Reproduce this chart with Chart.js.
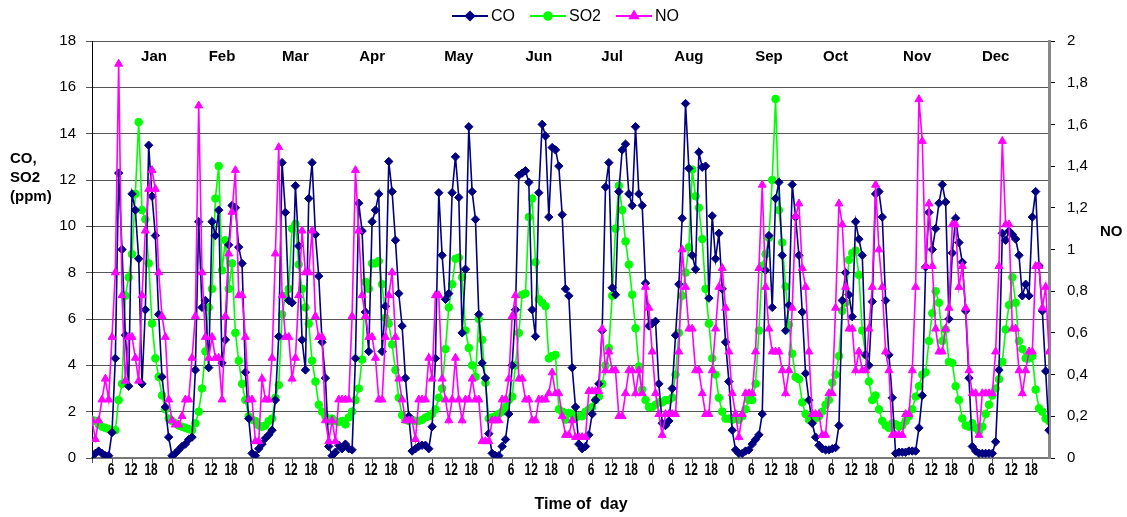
<!DOCTYPE html>
<html>
<head>
<meta charset="utf-8">
<script src="https://cdn.jsdelivr.net/npm/chart.js@4.4.1/dist/chart.umd.min.js"></script>
<style>
  html, body { margin: 0; padding: 0; background: #fff; }
  #wrap { width: 1127px; height: 517px; position: relative; }
</style>
</head>
<body>
<div id="wrap"><canvas id="airChart" width="1127" height="517"></canvas></div>
<script>
// =====================
// Data (hourly means, one row per month)
// =====================
const monthNames = ['Jan', 'Feb', 'Mar', 'Apr', 'May', 'Jun', 'Jul', 'Aug', 'Sep', 'Oct', 'Nov', 'Dec'];
const hourTicks = [0, 6, 12, 18];

const coMonths = [
  [0.1, 0.2, 0.3, 0.2, 0.1, 0.1, 1.1, 4.3, 12.3, 9.0, 5.3, 3.1, 11.4, 10.7, 8.6, 3.2, 6.4, 13.5, 11.3, 9.6, 6.2, 3.5, 2.2, 0.9],
  [0.1, 0.2, 0.35, 0.5, 0.6, 0.8, 0.9, 3.8, 10.2, 6.5, 6.8, 3.9, 10.2, 9.6, 10.7, 4.1, 5.1, 9.2, 10.9, 10.8, 9.1, 8.4, 3.7, 1.7],
  [0.2, 0.1, 0.4, 0.6, 0.85, 1.0, 1.2, 2.5, 5.25, 12.75, 10.6, 6.8, 6.7, 11.75, 9.15, 5.1, 3.8, 11.2, 12.75, 9.65, 7.85, 5.0, 3.45, 0.5],
  [0.1, 0.25, 0.55, 0.4, 0.6, 0.4, 0.35, 4.3, 11.0, 9.8, 6.3, 4.6, 10.2, 10.7, 11.4, 4.6, 6.55, 12.8, 11.5, 9.4, 7.1, 5.7, 3.45, 1.8],
  [0.3, 0.4, 0.5, 0.55, 0.55, 0.4, 1.35, 4.3, 11.45, 8.75, 6.85, 7.1, 11.45, 13.0, 11.25, 5.4, 8.15, 14.3, 11.5, 10.3, 6.2, 4.1, 3.45, 1.05],
  [0.2, 0.1, 0.1, 0.5, 0.8, 1.9, 4.0, 6.4, 12.2, 12.3, 12.4, 11.9, 6.4, 5.25, 11.45, 14.4, 13.9, 10.4, 13.4, 13.3, 12.6, 10.5, 7.3, 7.0],
  [3.9, 2.2, 0.6, 0.4, 0.5, 1.0, 1.9, 2.5, 3.2, 5.5, 11.7, 12.75, 7.35, 7.05, 11.5, 13.3, 13.55, 11.4, 10.9, 14.3, 11.4, 10.9, 7.55, 5.7],
  [5.8, 5.9, 3.2, 1.5, 1.4, 1.6, 3.0, 5.3, 7.5, 10.35, 15.3, 12.5, 8.75, 8.15, 13.2, 12.55, 12.6, 6.9, 10.45, 8.6, 9.7, 7.3, 5.0, 3.3],
  [1.2, 0.35, 0.2, 0.2, 0.3, 0.35, 0.6, 0.8, 1.0, 1.9, 8.1, 9.6, 6.5, 11.2, 11.9, 8.75, 5.5, 6.6, 11.8, 10.4, 8.75, 6.3, 3.65, 2.5],
  [1.5, 0.9, 0.55, 0.4, 0.35, 0.35, 0.4, 0.45, 1.4, 6.8, 8.0, 7.05, 6.1, 10.2, 9.45, 8.75, 4.45, 4.0, 6.75, 11.4, 11.5, 10.4, 6.8, 4.45],
  [2.6, 0.2, 0.25, 0.25, 0.25, 0.3, 0.3, 0.3, 1.3, 2.7, 8.25, 10.6, 9.0, 9.9, 11.0, 11.8, 11.05, 6.0, 8.85, 10.35, 9.3, 8.45, 6.35, 3.45],
  [0.5, 0.3, 0.2, 0.2, 0.2, 0.2, 0.2, 0.7, 3.8, 9.7, 9.4, 9.8, 9.65, 9.45, 8.75, 7.0, 7.5, 7.0, 10.4, 11.5, 8.3, 6.35, 3.75, 1.2]
];

const so2Months = [
  [1.65, 1.6, 1.45, 1.35, 1.3, 1.25, 1.2, 1.2, 2.5, 3.2, 7.0, 7.8, 8.8, 11.4, 14.5, 10.7, 10.3, 8.4, 5.8, 4.3, 3.5, 2.7, 2.1, 1.7],
  [1.6, 1.5, 1.4, 1.35, 1.3, 1.25, 1.2, 1.5, 2.0, 3.0, 4.6, 6.5, 7.3, 11.2, 12.6, 8.1, 9.4, 7.3, 8.4, 5.4, 4.2, 3.2, 2.5, 1.8],
  [1.65, 1.6, 1.4, 1.35, 1.4, 1.6, 1.7, 2.6, 3.15, 6.2, 7.0, 7.3, 9.9, 10.1, 8.35, 7.3, 6.5, 5.8, 4.2, 3.3, 2.3, 2.0, 1.8, 1.6],
  [1.7, 1.6, 1.55, 1.6, 1.45, 1.75, 2.0, 2.5, 3.0, 4.25, 7.6, 7.3, 8.4, 8.4, 8.5, 7.5, 6.05, 5.8, 4.9, 3.8, 2.6, 1.85, 1.65, 1.6],
  [1.65, 1.6, 1.6, 1.65, 1.75, 1.8, 1.9, 2.1, 2.6, 3.0, 4.7, 6.5, 7.5, 8.6, 8.65, 7.8, 5.5, 4.75, 4.0, 3.5, 6.0, 5.1, 3.25, 1.7],
  [1.75, 1.8, 1.9, 2.0, 2.2, 2.5, 2.65, 4.0, 5.4, 7.05, 7.1, 10.4, 11.2, 8.45, 6.85, 6.7, 6.55, 4.3, 4.4, 4.45, 2.1, 2.0, 1.65, 1.95],
  [1.9, 1.75, 1.8, 1.8, 2.0, 2.1, 2.2, 2.5, 2.65, 3.2, 4.0, 4.75, 7.0, 9.9, 11.75, 10.7, 9.35, 8.35, 7.05, 5.6, 3.95, 2.95, 2.5, 2.2],
  [2.2, 2.3, 2.4, 2.4, 2.5, 2.5, 2.6, 3.6, 5.4, 7.0, 8.0, 9.1, 12.45, 11.3, 10.8, 9.45, 7.3, 5.8, 4.3, 3.6, 2.6, 2.0, 1.7, 1.7],
  [1.65, 1.7, 1.65, 1.8, 2.1, 2.5, 2.5, 3.2, 5.5, 8.3, 8.8, 9.5, 12.0, 15.5, 10.7, 9.3, 7.4, 5.75, 4.5, 3.5, 3.4, 2.4, 1.9, 1.65],
  [1.6, 1.7, 1.8, 2.0, 2.3, 2.5, 3.25, 3.6, 4.4, 6.35, 6.7, 8.55, 8.85, 8.95, 7.9, 5.5, 4.45, 3.3, 2.5, 2.7, 2.1, 1.6, 1.4, 1.3],
  [1.5, 1.45, 1.35, 1.4, 1.6, 1.8, 2.1, 2.65, 3.1, 3.6, 3.7, 5.05, 6.25, 7.2, 6.7, 5.05, 5.55, 4.15, 4.1, 3.1, 2.5, 1.7, 1.4, 1.35],
  [1.5, 1.3, 1.15, 1.35, 1.9, 2.3, 2.7, 3.0, 3.4, 4.15, 5.55, 6.6, 7.8, 6.7, 5.05, 4.7, 4.3, 4.3, 4.4, 2.95, 2.15, 2.0, 1.7, 1.6]
];

const noMonths = [
  [0.18, 0.09, 0.18, 0.28, 0.38, 0.28, 0.58, 0.89, 1.89, 0.78, 0.37, 0.58, 0.58, 0.48, 0.37, 0.78, 1.09, 1.29, 1.38, 1.29, 0.89, 0.68, 0.58, 0.28],
  [0.18, 0.16, 0.16, 0.2, 0.28, 0.28, 0.48, 0.68, 1.69, 0.89, 0.58, 0.48, 0.58, 0.48, 0.48, 0.28, 0.68, 0.98, 1.18, 1.38, 0.78, 0.78, 0.58, 0.28],
  [0.28, 0.08, 0.08, 0.38, 0.28, 0.28, 0.48, 0.98, 1.49, 0.78, 0.58, 0.58, 0.38, 0.48, 0.78, 1.09, 0.89, 0.89, 1.09, 0.68, 0.58, 0.58, 0.18, 0.08],
  [0.18, 0.08, 0.28, 0.28, 0.28, 0.28, 0.68, 1.38, 1.09, 0.78, 0.68, 0.58, 0.58, 0.48, 0.28, 0.28, 0.58, 0.78, 0.89, 0.58, 0.38, 0.28, 0.18, 0.18],
  [0.18, 0.09, 0.28, 0.28, 0.28, 0.48, 0.38, 0.78, 0.78, 0.38, 0.28, 0.18, 0.28, 0.48, 0.28, 0.18, 0.28, 0.28, 0.38, 0.28, 0.28, 0.08, 0.08, 0.08],
  [0.18, 0.18, 0.18, 0.28, 0.28, 0.38, 0.68, 0.78, 0.38, 0.38, 0.28, 0.28, 0.18, 0.18, 0.28, 0.28, 0.28, 0.31, 0.41, 0.31, 0.31, 0.2, 0.11, 0.11],
  [0.18, 0.1, 0.1, 0.1, 0.1, 0.32, 0.32, 0.32, 0.32, 0.62, 0.42, 0.51, 0.42, 0.42, 0.2, 0.2, 0.31, 0.42, 0.42, 0.31, 0.42, 0.31, 0.82, 0.72],
  [0.51, 0.31, 0.21, 0.11, 0.21, 0.21, 0.21, 0.21, 0.51, 1.0, 0.82, 0.62, 0.62, 0.42, 0.42, 0.31, 0.21, 0.21, 0.42, 0.62, 0.82, 0.91, 0.72, 0.51],
  [0.31, 0.21, 0.1, 0.21, 0.31, 0.31, 0.31, 0.51, 0.91, 1.31, 0.82, 0.62, 0.51, 0.51, 0.51, 0.42, 0.31, 0.42, 0.72, 1.16, 1.22, 0.91, 0.82, 0.51],
  [0.21, 0.21, 0.21, 0.11, 0.11, 0.31, 0.31, 0.72, 1.22, 1.12, 0.82, 0.62, 0.62, 0.42, 0.51, 0.42, 0.42, 0.62, 0.82, 1.31, 1.0, 0.82, 0.51, 0.42],
  [0.11, 0.11, 0.11, 0.11, 0.21, 0.21, 0.42, 0.82, 1.72, 1.52, 0.92, 1.22, 0.92, 0.62, 0.51, 0.51, 0.62, 0.72, 1.12, 1.12, 0.82, 0.92, 0.72, 0.42],
  [0.31, 0.31, 0.11, 0.31, 0.31, 0.31, 0.31, 0.51, 0.92, 1.52, 1.12, 1.12, 0.62, 0.62, 0.42, 0.31, 0.42, 0.51, 0.51, 0.92, 0.92, 0.72, 0.82, 0.51]
];

// =====================
// Helpers
// =====================
const toPoints = (months) => months.flat().map((v, i) => ({ x: i, y: v }));
const commaNum = (v) => {
  const r = Math.round(v * 10) / 10;
  return Number.isInteger(r) ? String(r) : r.toFixed(1).replace('.', ',');
};
const FONT = "'Liberation Sans', Arial, sans-serif";
const HOURS_TOTAL = monthNames.length * 24;

// =====================
// Plugin: hour labels, month names, axis titles, legend
// =====================
const decorPlugin = {
  id: 'decor',
  afterDraw(chart, args, opts) {
    const { ctx } = chart;
    const xs = chart.scales.x;
    ctx.save();
    ctx.fillStyle = '#000';

    // hour labels under the x axis (condensed like the original)
    ctx.font = 'bold 17px ' + FONT;
    ctx.textAlign = 'center';
    ctx.textBaseline = 'middle';
    xs.ticks.forEach((t) => {
      if (t.value === 0) return;
      const label = String(hourTicks[(t.value / 6) % 4]);
      const px = xs.getPixelForValue(t.value) - 1;
      ctx.save();
      ctx.translate(px, 470);
      ctx.scale(0.7, 1);
      ctx.fillText(label, 0, 0);
      ctx.restore();
    });

    // month names inside the plot
    ctx.font = 'bold 15px ' + FONT;
    monthNames.forEach((m, i) => {
      ctx.fillText(m, xs.getPixelForValue(opts.monthAt[i]), 57);
    });

    // left axis title
    ctx.textAlign = 'left';
    ['CO,', 'SO2', '(ppm)'].forEach((t, i) => ctx.fillText(t, 10, 159 + i * 19));

    // right axis title
    ctx.fillText('NO', 1100, 232);

    // bottom title
    ctx.textAlign = 'center';
    ctx.font = 'bold 16px ' + FONT;
    ctx.fillText('Time of  day', 581, 505);

    // legend: line + marker + label
    ctx.font = '16px ' + FONT;
    ctx.textAlign = 'left';
    let x = 452;
    const y = 16;
    chart.data.datasets.forEach((ds) => {
      ctx.strokeStyle = ds.borderColor;
      ctx.lineWidth = 2;
      ctx.beginPath();
      ctx.moveTo(x, y);
      ctx.lineTo(x + 36, y);
      ctx.stroke();
      ctx.fillStyle = ds.backgroundColor;
      Chart.helpers.drawPoint(ctx, {
        pointStyle: ds.pointStyle,
        radius: ds.pointRadius,
        borderWidth: 1
      }, x + 18, y);
      ctx.fillStyle = '#000';
      ctx.fillText(ds.label, x + 39, y + 1);
      x += 39 + ctx.measureText(ds.label).width + 15;
    });
    ctx.restore();
  }
};

// =====================
// Render
// =====================
const ctx = document.getElementById('airChart').getContext('2d');
new Chart(ctx, {
  type: 'line',
  data: {
    datasets: [
      {
        label: 'CO',
        data: toPoints(coMonths),
        yAxisID: 'y',
        borderColor: '#000080',
        backgroundColor: '#000080',
        borderWidth: 1.6,
        pointStyle: 'rectRot',
        pointRadius: 4.2,
        pointBorderWidth: 1,
        order: 1
      },
      {
        label: 'SO2',
        data: toPoints(so2Months),
        yAxisID: 'y',
        borderColor: '#00ff00',
        backgroundColor: '#00ff00',
        borderWidth: 1.6,
        pointStyle: 'circle',
        pointRadius: 3.8,
        pointBorderWidth: 1,
        order: 2
      },
      {
        label: 'NO',
        data: toPoints(noMonths),
        yAxisID: 'y1',
        borderColor: '#ff00ff',
        backgroundColor: '#ff00ff',
        borderWidth: 1.6,
        pointStyle: 'triangle',
        pointRadius: 4.6,
        pointBorderWidth: 1,
        order: 0
      }
    ]
  },
  options: {
    responsive: false,
    animation: false,
    layout: { padding: { top: 41, left: 0, right: 0, bottom: 0 } },
    plugins: {
      legend: { display: false },
      tooltip: { enabled: false },
      decor: { monthAt: [18.6, 39, 61, 84, 110, 134, 156, 179, 203, 223, 247.5, 271] }
    },
    scales: {
      x: {
        type: 'linear',
        min: 0,
        max: HOURS_TOTAL - 1,
        afterFit: (s) => { s.height = 59; },
        afterBuildTicks: (s) => {
          const ticks = [];
          for (let v = 0; v < HOURS_TOTAL; v += 6) ticks.push({ value: v });
          s.ticks = ticks;
        },
        grid: { drawOnChartArea: false, tickLength: 5, color: '#555' },
        border: { color: '#777', width: 2 },
        ticks: {
          stepSize: 6,
          autoSkip: false,
          maxRotation: 0,
          display: false
        }
      },
      y: {
        position: 'left',
        min: 0,
        max: 18,
        afterFit: (s) => { s.width = 92; },
        grid: { color: '#555', lineWidth: 1, tickLength: 6 },
        border: { color: '#000', width: 1 },
        ticks: {
          stepSize: 2,
          padding: 10,
          color: '#000',
          font: { family: FONT, size: 15 }
        }
      },
      y1: {
        position: 'right',
        min: 0,
        max: 2,
        afterFit: (s) => { s.width = 78; },
        grid: { drawOnChartArea: false, tickLength: 6, color: '#000' },
        border: { color: '#888', width: 3 },
        ticks: {
          stepSize: 0.2,
          padding: 12,
          color: '#000',
          font: { family: FONT, size: 15 },
          callback: (v) => commaNum(v)
        }
      }
    }
  },
  plugins: [decorPlugin]
});
</script>
</body>
</html>
